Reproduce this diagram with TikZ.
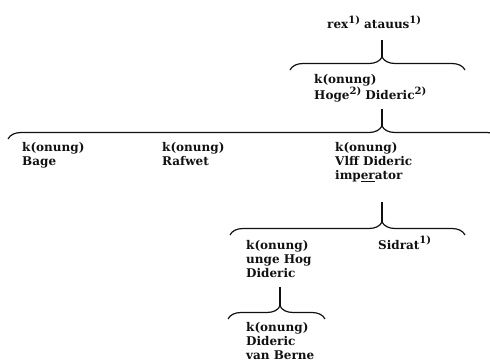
\documentclass[tikz,border=0pt]{standalone}
\usepackage{fontspec}
\setmainfont{DejaVu Serif}
\usetikzlibrary{decorations.pathreplacing}
\definecolor{ink}{HTML}{111111}
\newcommand\fnmark[1]{\raisebox{0.42em}{\fontsize{10}{10}\selectfont#1}}

\begin{document}
\begin{tikzpicture}[x=1pt, y=-1pt, font=\bfseries\fontsize{12}{14}\selectfont,
  every node/.style={text=ink, inner sep=0pt, anchor=north west, align=left},
  stem/.style={draw=ink, line width=1.2pt},
  fork/.style={draw=ink, line width=1.2pt,
    decorate, decoration={brace, amplitude=13pt, aspect=#1}}]
  \useasboundingbox (0,0) rectangle (490,361);
  \clip (0,0) rectangle (490,361);

  % Ancestors on top, then the first brace.
  \node[anchor=base west] (rex) at (327,29) {rex\fnmark{1)} atauus\fnmark{1)}};
  \coordinate (stemA) at (382,40);
  \coordinate (tipA) at (382,57);
  \draw[stem] (stemA) -- (tipA);
  \draw[fork=0.526] (290,70) -- (465,70);

  \node (hoge) at (314,74) {k(onung)\\Hoge\fnmark{2)} Dideric\fnmark{2)}};
  \coordinate (stemB) at (382,109);
  \coordinate (tipB) at (382,126);
  \draw[stem] (stemB) -- (tipB);
  \draw[fork=0.76] (8,139) -- (500,139);

  % Three sons of Hoge Dideric.
  \node (bage) at (22,142) {k(onung)\\Bage};
  \node (rafwet) at (162,142) {k(onung)\\Rafwet};
  \node (vlff) at (335,142) {k(onung)\\Vlff Dideric\\imp\underline{er}ator};
  \coordinate (stemC) at (382,202);
  \coordinate (tipC) at (382,222);
  \draw[stem] (stemC) -- (tipC);
  \draw[fork=0.647] (230,235) -- (465,235);

  \node (unge) at (246,240) {k(onung)\\unge Hog\\Dideric};
  \node[anchor=base west] (sidrat) at (378,249) {Sidrat\fnmark{1)}};
  \coordinate (stemD) at (280,287);
  \coordinate (tipD) at (280,306);
  \draw[stem] (stemD) -- (tipD);
  \draw[fork=0.536] (228,319) -- (325,319);

  \node (berne) at (246,322) {k(onung)\\Dideric\\van Berne};
\end{tikzpicture}
\end{document}
